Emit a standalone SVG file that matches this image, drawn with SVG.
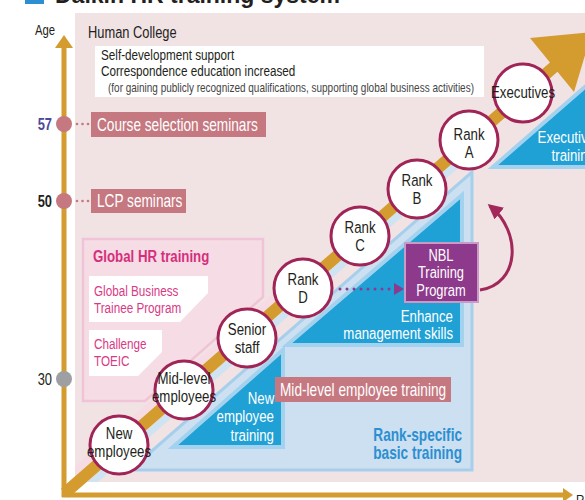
<svg xmlns="http://www.w3.org/2000/svg" width="585" height="500" viewBox="0 0 585 500">
  <style>
    text { font-family: "Liberation Sans", Arial, sans-serif; transform-box: fill-box; transform: scaleX(0.78); transform-origin: 0% 50%; }
    text[text-anchor="middle"] { transform-origin: 50% 50%; }
    text[text-anchor="end"] { transform-origin: 100% 50%; }
    text.plain { transform: none; }
    .dark { fill: #231f20; }
    .wht { fill: #ffffff; }
    .mag { fill: #d93a85; }
    .circ { fill: #ffffff; stroke: #a02556; stroke-width: 3; }
    .ctxt { fill: #231f20; font-size: 17px; }
    .tri { fill: #1fa1d6; stroke: #a3d2ef; stroke-width: 4; stroke-linejoin: miter; }
    .tritxt { fill: #ffffff; font-size: 17px; }
    .tag { fill: #c57880; }
    .tagtxt { fill: #ffffff; font-size: 17.5px; }
    .gold { stroke: #d49b2f; fill: none; }
  </style>
  <defs>
    <marker id="curveHead" viewBox="0 0 10 10" refX="8" refY="5" markerWidth="5" markerHeight="5" orient="auto">
      <path d="M0,0 L10,5 L0,10 Z" fill="#a3285a"/>
    </marker>
    <clipPath id="panelClip">
      <rect x="75" y="13" width="510" height="469"/>
    </clipPath>
  </defs>

  <!-- heading (runs off the top edge) -->
  <rect x="25" y="-16" width="19" height="20" fill="#2b8fd1"/>
  <text class="plain" x="55" y="3" font-size="23" font-weight="bold" fill="#231f20">Daikin HR training system</text>

  <!-- background panel -->
  <rect x="75" y="13" width="510" height="469" fill="#f1e2e4"/>

  <!-- Human College -->
  <g id="human-college">
    <text x="88" y="38" font-size="16.5" class="dark">Human College</text>
    <rect x="95" y="46" width="389" height="51" fill="#ffffff"/>
    <text x="101" y="60" font-size="15" class="dark">Self-development support</text>
    <text x="101" y="76.5" font-size="15" class="dark">Correspondence education increased</text>
    <text x="108" y="92.5" font-size="12.8" fill="#444">(for gaining publicly recognized qualifications, supporting global business activities)</text>
  </g>

  <!-- Global HR training -->
  <g id="global-hr">
    <path d="M83,239 H263 V297 L145,401 H83 Z" fill="#f5dce5" stroke="#f1c3d6" stroke-width="2.5"/>
    <text x="93" y="262.5" font-size="17" font-weight="bold" fill="#d52f7c">Global HR training</text>
    <path d="M89,276 H208 V293 L180,322 H89 Z" fill="#ffffff"/>
    <text x="94" y="296.5" font-size="15" class="mag">Global Business</text>
    <text x="94" y="313" font-size="15" class="mag">Trainee Program</text>
    <path d="M89,330 H162 V352 L138,376 H89 Z" fill="#ffffff"/>
    <text x="94" y="349" font-size="15" class="mag">Challenge</text>
    <text x="94" y="366" font-size="15" class="mag">TOEIC</text>
  </g>

  <!-- Rank-specific basic training -->
  <g id="rank-specific">
    <path d="M130,470 L472,172 V470 Z" fill="#cce0f1" stroke="#a6cfec" stroke-width="3"/>
    <text x="462" y="441" font-size="17.5" font-weight="bold" text-anchor="end" fill="#2b8fd1">Rank-specific</text>
    <text x="462" y="459" font-size="17.5" font-weight="bold" text-anchor="end" fill="#2b8fd1">basic training</text>
  </g>

  <g id="new-employee-training">
    <path d="M173,447 H283 V350 Z" class="tri"/>
    <text x="274" y="404" text-anchor="end" class="tritxt">New</text>
    <text x="274" y="422.5" text-anchor="end" class="tritxt">employee</text>
    <text x="274" y="441" text-anchor="end" class="tritxt">training</text>
  </g>

  <g id="management-training">
    <path d="M287,345 H462 V195 Z" class="tri"/>
    <text x="453" y="322" text-anchor="end" class="tritxt">Enhance</text>
    <text x="453" y="339.5" text-anchor="end" class="tritxt">management skills</text>
  </g>

  <g id="executive-training">
    <path d="M493,167 H610 V65 Z" class="tri"/>
    <text x="595" y="143.5" text-anchor="end" class="tritxt">Executive</text>
    <text x="595" y="161.5" text-anchor="end" class="tritxt">training</text>
  </g>

  <g id="mid-level-training">
    <rect x="275" y="377" width="176" height="25" class="tag"/>
    <text x="280" y="396" class="tagtxt">Mid-level employee training</text>
  </g>

  <!-- axes and career arrow -->
  <g id="connectors">
    <line x1="64" y1="497" x2="64" y2="46" class="gold" stroke-width="5"/>
    <path d="M55,48 L64,35 L73,48 Z" fill="#d49b2f"/>
    <line x1="62" y1="495" x2="565" y2="495" class="gold" stroke-width="5"/>
    <path d="M563,488 L573,495 L563,502 Z" fill="#d49b2f"/>
    <!-- pale bands either side of the career path -->
    <g clip-path="url(#panelClip)">
      <line x1="72" y1="500" x2="463" y2="159" stroke="#cfe3f3" stroke-width="7"/>
      <line x1="58" y1="486" x2="300" y2="275" stroke="#f6dbe4" stroke-width="7"/>
    </g>
    <line x1="65" y1="493" x2="555" y2="66" class="gold" stroke-width="12"/>
    <path d="M530,38 L592,32 L574,92 Z" fill="#d49b2f"/>
    <!-- Rank D to NBL -->
    <line x1="340" y1="289" x2="396" y2="289" stroke="#8e3a8c" stroke-width="3" stroke-linecap="round" stroke-dasharray="0 7"/>
    <path d="M394,283 L404,289 L394,295 Z" fill="#8e3a8c"/>
    <!-- NBL back up to upper ranks -->
    <path d="M480,290 C520,284 522,232 490,206" fill="none" stroke="#a3285a" stroke-width="3" marker-end="url(#curveHead)"/>
  </g>

  <g id="nbl">
    <rect x="405" y="243" width="73" height="59" fill="#8e3a8c" stroke="#c99ac6" stroke-width="2"/>
    <text x="441" y="261" font-size="16.5" text-anchor="middle" class="wht">NBL</text>
    <text x="441" y="278.5" font-size="16.5" text-anchor="middle" class="wht">Training</text>
    <text x="441" y="296" font-size="16.5" text-anchor="middle" class="wht">Program</text>
  </g>

  <!-- age axis -->
  <text x="45" y="35" font-size="14.5" text-anchor="middle" class="dark">Age</text>
  <g id="age-57">
    <circle cx="64" cy="124" r="8" fill="#c57880"/>
    <text x="52" y="130" font-size="16.5" font-weight="bold" text-anchor="end" fill="#4b4a9a">57</text>
    <circle cx="77" cy="124" r="1.3" fill="#c57880"/>
    <circle cx="82.5" cy="124" r="1.3" fill="#c57880"/>
    <circle cx="88" cy="124" r="1.3" fill="#c57880"/>
    <rect x="91" y="112" width="175" height="25" class="tag"/>
    <text x="97" y="131" class="tagtxt">Course selection seminars</text>
  </g>
  <g id="age-50">
    <circle cx="64" cy="201" r="8" fill="#c57880"/>
    <text x="52" y="207" font-size="16.5" font-weight="bold" text-anchor="end" class="dark">50</text>
    <circle cx="77" cy="201" r="1.3" fill="#c57880"/>
    <circle cx="82.5" cy="201" r="1.3" fill="#c57880"/>
    <circle cx="88" cy="201" r="1.3" fill="#c57880"/>
    <rect x="91" y="189" width="95" height="24" class="tag"/>
    <text x="97" y="207.5" class="tagtxt">LCP seminars</text>
  </g>
  <g id="age-30">
    <circle cx="64" cy="379" r="8" fill="#9d9fa2"/>
    <text x="52" y="385" font-size="16.5" text-anchor="end" class="dark">30</text>
  </g>
  <text x="576" y="505" font-size="15" class="dark">Rank</text>

  <!-- career stages -->
  <g id="new-employees">
    <circle cx="119" cy="445" r="29" class="circ"/>
    <text x="119" y="439" text-anchor="middle" class="ctxt" font-size="14">New</text>
    <text x="119" y="457" text-anchor="middle" class="ctxt" font-size="14">employees</text>
  </g>
  <g id="mid-level-employees">
    <circle cx="184" cy="390" r="29" class="circ"/>
    <text x="184" y="384.5" text-anchor="middle" class="ctxt" font-size="14">Mid-level</text>
    <text x="184" y="402" text-anchor="middle" class="ctxt" font-size="14">employees</text>
  </g>
  <g id="senior-staff">
    <circle cx="247" cy="338" r="29" class="circ"/>
    <text x="247" y="335" text-anchor="middle" class="ctxt">Senior</text>
    <text x="247" y="353" text-anchor="middle" class="ctxt">staff</text>
  </g>
  <g id="rank-d">
    <circle cx="303" cy="288" r="29" class="circ"/>
    <text x="303" y="285" text-anchor="middle" class="ctxt">Rank</text>
    <text x="303" y="303" text-anchor="middle" class="ctxt">D</text>
  </g>
  <g id="rank-c">
    <circle cx="360" cy="236" r="29" class="circ"/>
    <text x="360" y="233" text-anchor="middle" class="ctxt">Rank</text>
    <text x="360" y="251" text-anchor="middle" class="ctxt">C</text>
  </g>
  <g id="rank-b">
    <circle cx="417" cy="189" r="29" class="circ"/>
    <text x="417" y="186" text-anchor="middle" class="ctxt">Rank</text>
    <text x="417" y="204" text-anchor="middle" class="ctxt">B</text>
  </g>
  <g id="rank-a">
    <circle cx="469" cy="140" r="29" class="circ"/>
    <text x="469" y="140" text-anchor="middle" class="ctxt">Rank</text>
    <text x="469" y="158" text-anchor="middle" class="ctxt">A</text>
  </g>
  <g id="executives">
    <circle cx="523" cy="93" r="29" class="circ"/>
    <text x="523" y="98" text-anchor="middle" class="ctxt" font-size="15">Executives</text>
  </g>
</svg>
